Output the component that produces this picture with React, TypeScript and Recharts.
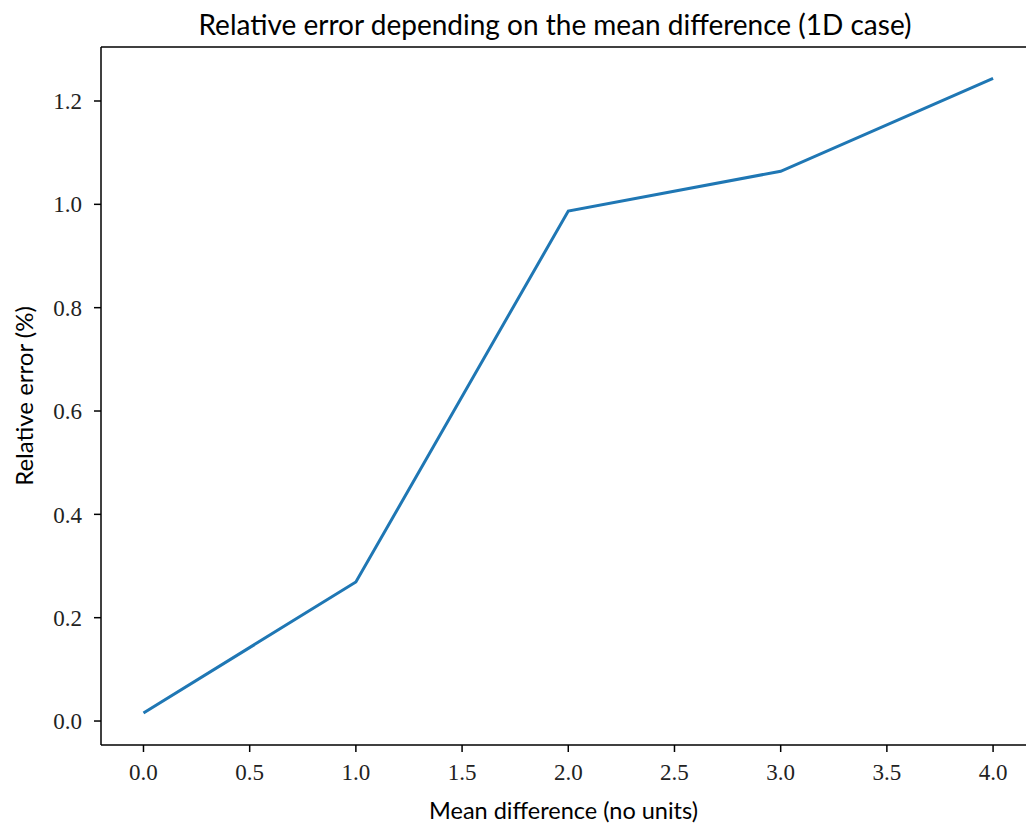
import { LineChart, Line, XAxis, YAxis, ReferenceLine } from 'recharts'

const meanDiff = [0, 1, 2, 3, 4]
const relError = [0.0155, 0.269, 0.987, 1.064, 1.244]
const xTicks = [0, 0.5, 1, 1.5, 2, 2.5, 3, 3.5, 4]
const yTicks = [0, 0.2, 0.4, 0.6, 0.8, 1.0, 1.2]

const data = meanDiff.map((x, i) => ({ x, y: relError[i] }))

const serif = '"Liberation Serif", "DejaVu Serif", serif'
const sans = 'Lato, "DejaVu Sans", sans-serif'

// top of the y range, where the upper frame line sits
const Y_TOP = 1.3045

export default function App() {
    return (
        <div style={{ position: 'fixed', left: 0, top: 0, width: 1026, height: 827, background: '#fff', overflow: 'hidden' }}>
            <LineChart
                width={1026}
                height={827}
                data={data}
                margin={{ top: 47, right: 0, left: 0, bottom: 0 }}
            >
                <XAxis
                    dataKey="x"
                    type="number"
                    domain={[-0.2, 4.155]}
                    allowDataOverflow
                    ticks={xTicks}
                    tickFormatter={(v: number) => v.toFixed(1)}
                    height={82}
                    stroke="#000"
                    strokeWidth={1.5}
                    tickSize={7}
                    tickMargin={12}
                    tick={{ fill: '#222', fontSize: 23, fontFamily: serif }}
                    label={{ value: 'Mean difference (no units)', position: 'insideBottom', offset: 8, fill: '#000', fontSize: 23.5, fontFamily: sans }}
                />
                <YAxis
                    type="number"
                    domain={[-0.0464, Y_TOP]}
                    allowDataOverflow
                    ticks={yTicks}
                    tickFormatter={(v: number) => v.toFixed(1)}
                    width={101}
                    stroke="#000"
                    strokeWidth={1.5}
                    tickSize={7}
                    tickMargin={12}
                    tick={{ fill: '#222', fontSize: 23, fontFamily: serif }}
                    label={{ value: 'Relative error (%)', angle: -90, position: 'insideLeft', offset: 24, fill: '#000', fontSize: 24, fontFamily: sans, style: { textAnchor: 'middle' } }}
                />
                <ReferenceLine y={Y_TOP} stroke="#000" strokeWidth={1.5} />
                <Line
                    dataKey="y"
                    stroke="#1f77b4"
                    strokeWidth={3}
                    dot={false}
                    activeDot={false}
                    isAnimationActive={false}
                />
                <text x={555} y={35} textAnchor="middle" fontSize={28} fontFamily={sans} fill="#000">
                    Relative error depending on the mean difference (1D case)
                </text>
            </LineChart>
        </div>
    )
}
